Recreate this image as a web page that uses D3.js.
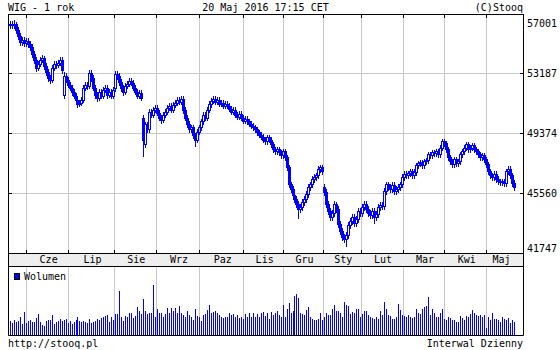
<!DOCTYPE html>
<html>
<head>
<meta charset="utf-8">
<script src="https://cdn.jsdelivr.net/npm/d3@7/dist/d3.min.js"></script>
<style>
body{margin:0;background:#fff}
svg{display:block}
text{font-family:"DejaVu Sans Mono",monospace;font-size:10px;fill:#000}
</style>
</head>
<body>
<svg class="chart"></svg>
<script>
// months shown on the axis band and their number of sessions (May 2015 .. May 2016)
var monthLabels=["","Cze","Lip","Sie","Wrz","Paz","Lis","Gru","Sty","Lut","Mar","Kwi","Maj"];
var monthDays=[9,21,23,21,22,22,20,20,19,21,21,21,14];
var priceTicks=[41747,45560,49374,53187,57001];
var volumeTop=4140;

var open=[
56280,56370,56300,56370,55980,55600,55220,55350,55160,
55290,55090,54900,54460,54080,53570,53820,54080,54200,53700,53320,52930,52810,53570,53820,53760,53890,54080,51850,53060,52810,
52490,52300,52040,51790,51540,51280,51340,51540,52300,52490,52420,53250,52930,52300,51850,51660,52040,51790,52170,52300,51850,52040,51790,
52250,53190,53060,52680,52300,52040,52420,52550,52740,52620,52300,52040,51790,51980,50390,48680,49950,49630,50770,50580,50900,
51030,50710,50390,50260,50580,50770,51030,51150,50900,51220,51340,51540,51410,51600,50900,50390,50010,49630,49760,49250,48990,49500,
49760,50140,50580,50390,50900,51280,51470,51600,51410,51540,51280,51340,51150,51280,51150,50960,50770,50900,50580,50450,50650,50390,
50200,50330,50140,50010,49880,49760,49630,49440,49310,49180,48990,48870,49120,48990,48680,48360,48230,48360,48170,47980,
48230,47850,47210,46130,45820,45430,45180,44860,44540,44670,44990,45180,45500,45940,46130,46450,46580,46700,47090,47210,
45940,45620,44860,44420,44040,44290,44860,44540,43590,43150,42760,42640,42890,43530,43780,44040,43650,43910,44420,
44290,44670,44860,44540,44290,44160,44420,44040,44230,44670,44800,44730,45690,46130,45940,45820,46070,45690,45820,45940,46130,
46580,46770,46700,46830,46960,46700,46900,47340,47470,47530,47340,47590,47660,48040,47980,48170,48100,48230,48040,48480,48870,
48740,48360,47850,47590,47400,47720,47470,47590,48040,48230,48480,48680,48360,48480,48610,48360,48230,48040,47850,47980,47720,
47400,46960,46700,46580,46770,46450,46320,46260,46320,46200,46960,47090,46700,46200];
var high=[
56560,56550,56590,56510,56160,55790,55530,55510,55480,
55470,55260,55090,54620,54250,54020,54250,54410,54350,53870,53480,53120,53770,54000,53990,54080,54250,54240,53270,53230,52960,
52670,52480,52210,51970,51710,51510,51730,52470,52670,52650,53430,53410,53090,52470,52010,52210,52220,52350,52480,52460,52220,52200,52340,
53370,53360,53230,52850,52490,52590,52720,52910,52910,52800,52470,52210,52150,52140,50560,50130,50120,50950,50940,51070,51210,
51200,50890,50570,50750,50950,51200,51330,51320,51390,51510,51720,51710,51770,51760,51070,50560,50190,49940,49930,49420,49670,49940,
50310,50760,50750,51070,51460,51640,51790,51760,51710,51710,51510,51520,51450,51440,51320,51130,51070,51060,50750,50830,50810,50560,
50510,50500,50310,50190,50050,49930,49810,49610,49480,49360,49160,49300,49290,49170,48850,48530,48540,48530,48350,48410,
48410,48030,47390,46310,46010,45610,45370,45040,44850,45170,45360,45680,46120,46310,46630,46760,46880,47270,47390,47380,
46120,45800,45040,44600,44470,45040,45030,44720,43770,43330,42940,43070,43710,43960,44220,44220,44090,44600,44590,
44850,45040,45040,44720,44470,44600,44600,44410,44850,44980,44980,45870,46310,46310,46120,46250,46250,46000,46120,46310,46760,
46950,46950,47010,47140,47140,47080,47520,47650,47710,47710,47770,47840,48220,48220,48350,48350,48410,48410,48660,49050,49050,
48920,48540,48030,47770,47900,47900,47770,48220,48410,48660,48860,48860,48660,48790,48790,48540,48410,48220,48160,48160,47900,
47580,47140,46880,46950,46950,46630,46500,46500,46500,47140,47270,47270,46880,46380];
var low=[
56090,56120,56130,55790,55410,55040,55030,54970,54990,
54900,54730,54280,53880,53360,53400,53660,53910,53520,53130,52730,52590,52650,53400,53580,53600,53720,53250,51620,52630,52320,
52120,51860,51610,51340,51090,51110,51170,51370,52130,52240,52250,52750,52130,51660,51470,51490,51610,51620,52000,51670,51690,51610,51620,
52070,52880,52500,52110,51850,51880,52250,52380,52450,52120,51870,51610,51620,51490,47930,48490,49450,49460,50400,50410,50730,
50530,50210,50070,50090,50400,50590,50850,50730,50740,51050,51170,51240,51240,50710,50220,49820,49450,49460,49080,48570,48810,49330,
49590,49970,50210,50220,50730,51090,51290,51240,51250,51110,51120,50980,50990,50980,50790,50590,50600,50410,50270,50290,50220,50020,
50030,49960,49830,49700,49580,49450,49260,49130,49000,48810,48690,48700,48810,48490,48180,48050,48060,47990,47800,47810,
47670,47030,45950,45630,45250,44990,44670,43990,44370,44490,44810,45000,45320,45760,45950,46270,46400,46520,46910,46780,
45440,44680,44240,43860,43860,44110,44360,43410,42970,42580,42460,42210,42710,43350,43600,43470,43470,43730,44110,
44110,44490,44360,44110,43980,43980,43690,43860,44050,44490,44550,44550,45510,45760,45640,45640,45510,45510,45640,45760,45950,
46400,46520,46520,46650,46520,46520,46720,47160,47290,47160,47160,47410,47480,47800,47800,47920,47920,47860,47860,48300,48560,
48180,47670,47410,47220,47220,47290,47290,47410,47860,48050,48300,48180,48180,48300,48180,48050,47860,47670,47670,47540,47220,
46780,46520,46400,46400,46270,46140,46080,46080,46020,46020,46780,46520,46020,45760];
var close=[
56370,56300,56370,55980,55600,55220,55350,55160,55290,
55090,54900,54460,54080,53570,53820,54080,54200,53700,53320,52930,52810,53570,53820,53760,53890,54080,53440,53060,52810,52490,
52300,52040,51790,51540,51280,51340,51540,52300,52490,52420,53250,52930,52300,51850,51660,52040,51790,52170,52300,51850,52040,51790,52170,
53190,53060,52680,52300,52040,52420,52550,52740,52620,52300,52040,51790,51980,51660,48990,49950,49630,50770,50580,50900,51030,
50710,50390,50260,50580,50770,51030,51150,50900,51220,51340,51540,51410,51600,50900,50390,50010,49630,49760,49250,48990,49500,49760,
50140,50580,50390,50900,51280,51470,51600,51410,51540,51280,51340,51150,51280,51150,50960,50770,50900,50580,50450,50650,50390,50200,
50330,50140,50010,49880,49760,49630,49440,49310,49180,48990,48870,49120,48990,48680,48360,48230,48360,48170,47980,48230,
47850,47210,46130,45820,45430,45180,44860,44540,44670,44990,45180,45500,45940,46130,46450,46580,46700,47090,47210,46960,
45620,44860,44420,44040,44290,44860,44540,43590,43150,42760,42640,42890,43530,43780,44040,43650,43910,44420,44290,
44670,44860,44540,44290,44160,44420,44040,44230,44670,44800,44730,45690,46130,45940,45820,46070,45690,45820,45940,46130,46580,
46770,46700,46830,46960,46700,46900,47340,47470,47530,47340,47590,47660,48040,47980,48170,48100,48230,48040,48480,48870,48740,
48360,47850,47590,47400,47720,47470,47590,48040,48230,48480,48680,48360,48480,48610,48360,48230,48040,47850,47980,47720,47400,
46960,46700,46580,46770,46450,46320,46260,46320,46200,46960,47090,46700,46200,45940];
var volume=[
860,740,900,800,840,1100,660,1400,700,
860,900,760,800,1000,1260,800,600,540,860,900,900,1200,660,800,860,960,860,900,940,740,
860,660,800,900,1100,860,800,840,800,740,960,740,800,860,940,900,1040,1100,1160,1200,800,1060,900,
1240,1260,2640,1100,860,1140,1100,1300,1340,1000,1140,1660,1460,1260,2160,1460,1260,1300,1300,3000,1060,
1540,1300,1300,1060,1240,1600,1340,1600,1440,1600,1300,1740,1340,1200,1060,1460,1200,1060,900,1540,1140,1100,
860,1200,1240,1500,1800,1340,1400,1440,1300,1200,1100,1000,1100,1060,1300,1200,1260,1060,1200,1000,1060,940,
1260,1060,1300,1100,1300,1060,1240,1100,1340,1400,1140,1340,940,1400,1200,1300,1460,1200,1080,1800,
1080,1560,1920,1320,1440,2340,2460,2220,1320,1260,1200,1500,1680,1080,960,900,900,960,1320,900,
1080,1320,1200,1200,1560,1800,1440,1440,1320,1080,1980,1800,1740,1260,1380,1320,1560,1560,1080,
1260,1440,1440,1200,1080,1020,960,1080,960,1440,1200,1980,1560,1200,1140,960,960,1080,1860,1500,1200,
1140,1080,1200,1080,1020,1080,1560,1320,1260,1560,1680,1740,2280,1200,1560,1320,1080,1080,1320,1560,960,
900,1080,1020,900,900,780,780,1140,1020,900,1140,1080,1260,1500,1320,1200,1140,1200,1080,1200,420,
1080,900,1320,960,960,900,780,1080,960,900,1020,720,900,780];

var screen={width:560,height:350};
var frame={left:8,right:523,top:14,bottom:253,band:266,vol:335};
var blue="#0000ff",gridColor="#c8c8c8";

var svg=d3.select("svg.chart")
          .attr("width",screen.width)
          .attr("height",screen.height);

var n=close.length;
var xscale=d3.scaleLinear().domain([0,n-1]).range([9.8,513.5]);
var col=function(i){return Math.round(xscale(i));};
var yscale=d3.scaleLinear()
             .domain([priceTicks[0],priceTicks[priceTicks.length-1]])
             .range([frame.bottom,frame.top]);
var row=function(v){return Math.round(yscale(v));};
var vscale=d3.scaleLinear().domain([0,volumeTop]).range([frame.vol,frame.band]);

// month spans in session indexes
var acc=0;
var months=monthLabels.map(function(m,k){
  var s=acc;acc+=monthDays[k];
  return {label:m,start:s,end:acc-1};
});
var bound=function(m){return Math.floor((xscale(m.start-1)+xscale(m.start))/2)+0.5;};
var inner=months.slice(1);

// grid
var grid=svg.append("g").attr("stroke",gridColor).attr("stroke-width",1);
grid.selectAll("line.v1").data(inner).enter().append("line")
    .attr("x1",bound).attr("x2",bound)
    .attr("y1",frame.top).attr("y2",frame.bottom);
grid.selectAll("line.v2").data(inner).enter().append("line")
    .attr("x1",bound).attr("x2",bound)
    .attr("y1",frame.band).attr("y2",frame.vol);
grid.selectAll("line.h").data(priceTicks.slice(1,-1)).enter().append("line")
    .attr("x1",frame.left).attr("x2",frame.right)
    .attr("y1",function(d){return Math.floor(yscale(d))+0.5;})
    .attr("y2",function(d){return Math.floor(yscale(d))+0.5;});

// candles
var days=d3.range(n);
var candle=svg.append("g").selectAll("g").data(days).enter().append("g");
candle.append("path")
      .attr("fill","none").attr("stroke",blue)
      .attr("d",function(i){
        var x=col(i)+0.5;
        var top=row(Math.max(open[i],close[i])),bot=row(Math.min(open[i],close[i]));
        return "M"+x+","+row(high[i])+"V"+top+"M"+x+","+(bot+1)+"V"+(row(low[i])+1);
      });
candle.filter(function(i){return close[i]<open[i];})
      .append("rect")
      .attr("x",function(i){return col(i)-1;})
      .attr("y",function(i){return row(open[i]);})
      .attr("width",3)
      .attr("height",function(i){return Math.max(1,row(close[i])-row(open[i])+1);})
      .attr("fill",blue);
candle.filter(function(i){return close[i]>=open[i];})
      .append("rect")
      .attr("x",function(i){return col(i)-0.5;})
      .attr("y",function(i){return row(close[i])+0.5;})
      .attr("width",2)
      .attr("height",function(i){return Math.max(0,row(open[i])-row(close[i]));})
      .attr("fill","none").attr("stroke",blue);

// volume
svg.append("g").selectAll("rect").data(days).enter().append("rect")
   .attr("x",col)
   .attr("y",function(i){return Math.round(vscale(volume[i]));})
   .attr("width",1)
   .attr("height",function(i){return frame.vol-Math.round(vscale(volume[i]));})
   .attr("fill",blue);

// frames and band
var fr=svg.append("g").attr("stroke","#000").attr("fill","none");
fr.append("rect").attr("x",frame.left+0.5).attr("y",frame.top+0.5)
  .attr("width",frame.right-frame.left).attr("height",frame.bottom-frame.top);
fr.append("rect").attr("x",frame.left+0.5).attr("y",frame.bottom+0.5)
  .attr("width",frame.right-frame.left).attr("height",frame.band-frame.bottom)
  .attr("fill","#eeeeee");
fr.append("path")
  .attr("d","M"+(frame.left+0.5)+","+frame.band+"V"+(frame.vol+0.5)+"H"+(frame.right+0.5)+"V"+frame.band);

// ticks
fr.selectAll("path.tk").data(priceTicks.slice(1,-1)).enter().append("path")
  .attr("d",function(d){
    var y=Math.floor(yscale(d))+0.5;
    return "M"+frame.left+","+y+"h4M"+(frame.right-3)+","+y+"h4";
  });
fr.selectAll("path.mt").data(inner).enter().append("path")
  .attr("d",function(m){
    var x=bound(m);
    return "M"+x+","+frame.top+"v4M"+x+","+(frame.bottom-3)+"v4";
  });

// labels
svg.append("g").selectAll("text").data(priceTicks).enter().append("text")
   .attr("x",frame.right+4)
   .attr("y",function(d){return Math.max(27,Math.min(252,Math.floor(yscale(d))+4));})
   .text(function(d){return d;});
svg.append("g").selectAll("text").data(inner).enter().append("text")
   .attr("text-anchor","middle")
   .attr("x",function(m){return (xscale(m.start-0.5)+xscale(m.end+0.5))/2+1;})
   .attr("y",frame.band-3)
   .text(function(m){return m.label;});

svg.append("text").attr("x",8).attr("y",11).text("WIG - 1 rok");
svg.append("text").attr("x",265.5).attr("y",11).attr("text-anchor","middle").text("20 Maj 2016 17:15 CET");
svg.append("text").attr("x",frame.right).attr("y",11).attr("text-anchor","end").text("(C)Stooq");
svg.append("text").attr("x",8).attr("y",347).text("http://stooq.pl");
svg.append("text").attr("x",frame.right).attr("y",347).attr("text-anchor","end").text("Interwal Dzienny");

svg.append("rect").attr("x",14.5).attr("y",273.5).attr("width",5).attr("height",6)
   .attr("fill",blue).attr("stroke","#000");
svg.append("text").attr("x",24).attr("y",280).text("Wolumen");
</script>
</body>
</html>
